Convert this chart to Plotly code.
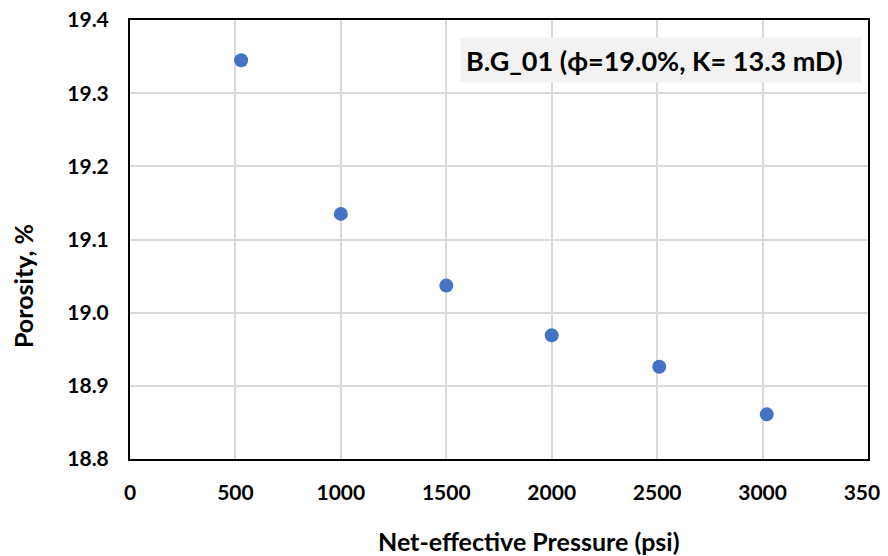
import plotly.graph_objects as go

pressure_psi = [527, 1000, 1500, 2000, 2510, 3020]
porosity_pct = [19.345, 19.135, 19.037, 18.969, 18.926, 18.861]
x_ticks = [0, 500, 1000, 1500, 2000, 2500, 3000, 3500]
y_ticks = [18.8, 18.9, 19.0, 19.1, 19.2, 19.3, 19.4]
label_text = "B.G_01 (ϕ=19.0%, K= 13.3 mD)"
x_title = "Net-effective Pressure (psi)"
y_title = "Porosity, %"

FONT = "Lato"

fig = go.Figure(go.Scatter(
    x=pressure_psi, y=porosity_pct, mode="markers",
    marker=dict(color="#4472C4", size=14),
    showlegend=False,
))

# the page body has an 8px default margin, so offsets compensate for it
fig.update_layout(
    width=888, height=556,
    margin=dict(l=122, r=28, t=12, b=105),
    paper_bgcolor="white", plot_bgcolor="white",
    font=dict(family=FONT, color="black", size=21),
)
fig.update_xaxes(
    range=[0, 3500], tickvals=x_ticks, ticktext=[str(v) for v in x_ticks],
    showgrid=True, gridcolor="#d9d9d9", gridwidth=1.5,
    showline=True, linecolor="black", linewidth=2, mirror=True,
    zeroline=False, ticks="", ticklabelstandoff=14, automargin=False,
    ticklabeloverflow="allow",
    tickfont=dict(family=FONT, size=21, color="black", weight="bold"),
)
fig.update_yaxes(
    range=[18.8, 19.4], tickvals=y_ticks, ticktext=[f"{v:.1f}" for v in y_ticks],
    showgrid=True, gridcolor="#d9d9d9", gridwidth=1.5,
    showline=True, linecolor="black", linewidth=2, mirror=True,
    zeroline=False, ticks="", ticklabelstandoff=15, automargin=False,
    ticklabeloverflow="allow",
    tickfont=dict(family=FONT, size=21, color="black", weight="bold"),
)
fig.add_annotation(
    x=0.5407, y=-0.1868, xref="paper", yref="paper",
    xanchor="center", yanchor="middle", showarrow=False,
    text="<b>" + x_title + "</b>",
    font=dict(family=FONT, size=25, color="black"),
)
fig.add_annotation(
    x=-0.145, y=0.394, xref="paper", yref="paper", textangle=-90,
    xanchor="center", yanchor="middle", showarrow=False,
    text="<b>" + y_title + "</b>",
    font=dict(family=FONT, size=25, color="black"),
)
fig.add_annotation(
    x=0.992, y=0.909, xref="paper", yref="paper", xanchor="right", yanchor="middle",
    text="<b>" + label_text + "</b>", showarrow=False,
    bgcolor="#f2f2f2", borderpad=5, width=390, height=34, align="left",
    font=dict(family=FONT, size=27, color="black"),
)

fig.write_html("out.html")
